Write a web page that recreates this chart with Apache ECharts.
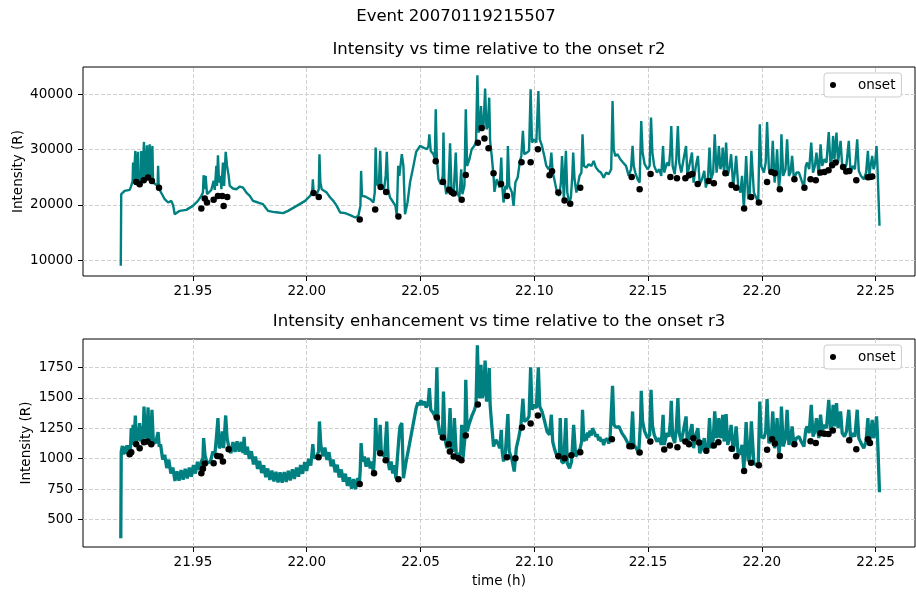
<!DOCTYPE html>
<html><head><meta charset="utf-8">
<script src="https://cdn.jsdelivr.net/npm/echarts@6.0.0/dist/echarts.min.js"></script>
<style>html,body{margin:0;padding:0;background:#fff}#main{width:916px;height:594px}</style>
</head><body><div id="main"></div>
<script>
// ---- data (time in hours, intensity in R) ----
const xTicks = [21.95, 22.00, 22.05, 22.10, 22.15, 22.20, 22.25];
const yTicksR2 = [10000, 20000, 30000, 40000];
const yTicksR3 = [500, 750, 1000, 1250, 1500, 1750];

const r2Trace = [[21.9183,8955],[21.9185,21910],[21.9200,22520],[21.9222,22700],[21.9229,23420],[21.9235,24300],[21.9237,27640],[21.9240,24300],[21.9245,24620],[21.9247,29750],[21.9250,24320],[21.9257,24620],[21.9259,29600],[21.9262,24320],[21.9271,24020],[21.9273,29750],[21.9276,24320],[21.9283,24620],[21.9285,31375],[21.9288,24320],[21.9296,24620],[21.9298,30770],[21.9301,24620],[21.9308,24920],[21.9310,30950],[21.9313,24620],[21.9320,24320],[21.9322,30650],[21.9325,24020],[21.9335,23720],[21.9345,23420],[21.9347,27040],[21.9350,23000],
[21.9354,22820],[21.9376,21010],[21.9391,20410],[21.9405,20710],[21.9413,19930],[21.9420,18300],[21.9442,18900],[21.9471,19080],[21.9500,19800],[21.9522,20710],[21.9537,21610],[21.9544,22210],[21.9547,25350],[21.9552,22820],[21.9556,25230],[21.9562,21910],[21.9581,22700],[21.9591,24320],[21.9596,22700],[21.9603,27040],[21.9606,23420],[21.9610,28960],[21.9615,24020],[21.9621,25230],[21.9625,22820],[21.9632,27640],[21.9637,23420],[21.9644,29570],[21.9650,27040],[21.9657,25230],[21.9662,23420],[21.9676,22940],[21.9691,22820],[21.9706,23300],[21.9720,23120],[21.9735,22210],[21.9750,21610],[21.9764,20710],[21.9786,20410],[21.9808,20100],[21.9830,18900],[21.9852,18720],[21.9874,18600],[21.9896,18480],[21.9918,18900],
[21.9956,19800],[21.9993,20710],[22.0015,21610],[22.0024,22210],[22.0027,24620],[22.0031,21910],[22.0044,21910],[22.0053,22820],[22.0056,29150],[22.0060,24020],[22.0066,22820],[22.0088,22210],[22.0103,21310],[22.0117,20710],[22.0132,19800],[22.0147,18600],[22.0169,18480],[22.0191,18120],[22.0213,17690],[22.0227,18000],[22.0236,19800],[22.0239,26130],[22.0243,21610],[22.0257,21490],[22.0279,21010],[22.0293,20410],[22.0299,22210],[22.0303,30350],[22.0308,23720],[22.0317,23420],[22.0323,29750],[22.0328,23420],[22.0340,22820],[22.0347,25230],[22.0352,29570],[22.0358,22820],[22.0366,21310],[22.0381,20410],[22.0390,19800],[22.0396,18000],[22.0402,27040],[22.0407,25230],[22.0418,29150],[22.0425,27040],[22.0432,18300],[22.0443,20410],[22.0454,24020],[22.0469,27040],[22.0481,29570],[22.0498,30650],[22.0513,30350],[22.0528,30050],[22.0535,30650],[22.0539,32760],[22.0545,29750],[22.0557,29150],[22.0563,28240],[22.0567,37280],[22.0572,28240],[22.0579,24620],[22.0589,23720],[22.0598,25230],[22.0601,33060],[22.0605,24620],[22.0613,21910],[22.0623,23420],[22.0630,31130],[22.0636,22820],[22.0645,21610],[22.0655,29450],[22.0661,22210],[22.0671,21310],[22.0679,26430],[22.0684,21910],[22.0693,23420],[22.0699,37280],[22.0705,27040],[22.0715,28240],[22.0725,30050],[22.0736,30650],[22.0744,31260],[22.0750,43430],[22.0756,33060],[22.0762,34270],[22.0766,37890],[22.0771,33370],[22.0777,34270],[22.0784,41020],[22.0790,33670],[22.0796,34270],[22.0802,39390],[22.0806,31560],[22.0813,28840],[22.0821,25230],[22.0825,22330],[22.0835,24620],
[22.0848,23120],[22.0855,28540],[22.0859,23420],[22.0865,20410],[22.0873,23420],[22.0880,22820],[22.0884,30650],[22.0890,23420],[22.0902,22210],[22.0909,19800],[22.0917,24020],[22.0927,24920],[22.0936,27640],[22.0943,28840],[22.0950,33370],[22.0956,29150],[22.0968,29450],[22.0977,29750],[22.0984,40900],[22.0990,31260],[22.1000,31860],[22.1009,31260],[22.1018,40600],[22.1024,31860],[22.1034,30650],[22.1044,28840],[22.1053,27040],[22.1063,26430],[22.1070,27040],[22.1075,29450],[22.1081,25830],[22.1088,24620],[22.1100,22210],[22.1110,21610],[22.1117,24020],[22.1122,28840],[22.1126,25230],[22.1130,20710],[22.1136,27040],[22.1139,29750],[22.1145,22210],[22.1154,20410],[22.1161,21310],[22.1167,25230],[22.1171,29450],[22.1177,24620],[22.1185,22210],[22.1199,25230],[22.1207,25830],[22.1212,32760],[22.1218,27040],[22.1229,26740],[22.1239,27340],[22.1251,27040],[22.1261,27940],[22.1271,26740],[22.1283,26130],[22.1293,25830],[22.1305,24920],[22.1316,25830],[22.1327,25530],[22.1338,26430],[22.1344,38790],[22.1349,30050],[22.1356,28840],[22.1366,29150],[22.1378,28240],[22.1390,27640],[22.1403,27040],[22.1415,25230],[22.1425,26430],[22.1432,30650],[22.1437,27040],[22.1444,25830],[22.1454,24620],[22.1463,24020],[22.1467,30650],[22.1470,35170],[22.1476,29450],[22.1485,27340],[22.1498,26430],[22.1507,27040],[22.1513,35780],[22.1519,29450],[22.1527,27040],[22.1539,25830],[22.1549,26430],[22.1558,25230],[22.1566,30650],[22.1571,25830],[22.1583,27640],[22.1592,27040],[22.1598,30050],[22.1602,34270],[22.1608,27040],[22.1617,25530],[22.1624,28240],[22.1631,34270],[22.1637,27640],[22.1646,25830],[22.1656,28240],[22.1667,30650],[22.1673,25230],[22.1681,27040],[22.1693,29450],[22.1700,24020],[22.1710,27040],[22.1719,28840],[22.1727,23720],[22.1737,24620],[22.1747,26130],[22.1754,23120],
[22.1763,24620],[22.1770,30350],[22.1777,24620],[22.1786,25830],[22.1793,32760],[22.1801,25830],[22.1807,27640],[22.1811,30650],[22.1818,26430],[22.1824,27340],[22.1828,30350],[22.1834,25830],[22.1839,28240],[22.1843,31260],[22.1850,25230],[22.1859,27040],[22.1865,29150],[22.1874,23420],[22.1881,25830],[22.1887,28840],[22.1896,23420],[22.1906,22210],[22.1913,25230],[22.1921,19200],[22.1931,28840],[22.1940,21010],[22.1947,22210],[22.1954,29750],[22.1965,22210],[22.1975,21310],[22.1984,20410],[22.1991,34570],[22.1997,27040],[22.2009,25830],[22.2017,27640],[22.2023,34990],[22.2031,26430],[22.2041,25830],[22.2048,31560],[22.2056,24020],[22.2063,27040],[22.2067,30050],[22.2075,22820],[22.2082,25830],[22.2086,32760],[22.2094,25230],[22.2104,26430],[22.2111,31860],[22.2119,25230],[22.2126,25830],[22.2133,28840],[22.2141,24620],[22.2152,25830],[22.2163,25830],[22.2173,24620],[22.2185,23120],[22.2193,27040],[22.2199,27640],[22.2208,26430],[22.2217,31260],[22.2225,25830],[22.2233,27040],[22.2240,29450],[22.2250,25230],[22.2258,30950],[22.2265,27040],[22.2275,28240],[22.2284,27640],[22.2294,33180],[22.2302,27040],[22.2309,28840],[22.2313,32460],[22.2319,28240],[22.2328,33060],[22.2335,27640],[22.2346,31560],[22.2353,27040],[22.2363,26430],[22.2372,27340],[22.2382,31560],[22.2390,25830],[22.2400,27040],[22.2409,26430],[22.2419,31860],[22.2426,26130],[22.2436,25230],[22.2448,24620],[22.2458,25830],[22.2466,29750],[22.2472,25230],[22.2478,27040],[22.2485,28840],[22.2491,26430],[22.2498,27640],[22.2504,30650],[22.2508,27040],[22.2514,26740],[22.2517,16190]];

const r2Onsets = [[21.9251,24140],[21.9266,23720],[21.9284,24440],[21.9303,24930],[21.9320,24320],[21.9351,23060],[21.9537,19320],[21.9552,21130],[21.9562,20410],[21.9591,20890],[21.9610,21610],[21.9629,21610],[21.9635,19800],[21.9651,21430],
[22.0030,22150],[22.0053,21430],[22.0233,17330],[22.0301,19140],[22.0325,23240],[22.0349,22330],[22.0403,17880],[22.0567,27880],[22.0599,24140],[22.0626,22700],[22.0636,22330],[22.0646,22030],[22.0681,20890],[22.0699,25410],[22.0752,31250],[22.0769,33910],[22.0781,31980],[22.0799,30230],[22.0821,25710],
[22.0854,23780],[22.0880,21610],[22.0944,27700],[22.0984,27700],[22.1016,30050],[22.1067,25350],[22.1078,26070],[22.1106,22210],[22.1133,20770],[22.1158,20170],[22.1202,23060],[22.1428,25050],[22.1463,22820],[22.1511,25590],[22.1598,25050],[22.1627,24810],[22.1664,24810],[22.1680,25350],[22.1694,25590],[22.1718,23780],
[22.1766,24320],[22.1789,23900],[22.1840,25710],[22.1867,23600],[22.1887,23060],[22.1922,19320],[22.1953,21430],[22.1987,20410],[22.2023,24140],[22.2042,25950],[22.2057,25710],[22.2079,22820],[22.2143,24620],[22.2187,23060],[22.2214,24620],[22.2237,24440],[22.2258,25830],[22.2275,25950],[22.2293,26250],[22.2309,27150],[22.2324,27640],[22.2357,26850],[22.2371,26010],[22.2384,26130],[22.2415,24440],[22.2466,24990],[22.2475,25050],[22.2485,25110]];

const r3Trace = [[21.9183,346],[21.9185,1059],[21.9190,1105],[21.9195,1035],[21.9200,1100],[21.9205,1040],[21.9210,1110],[21.9215,1045],[21.9220,1110],[21.9225,1050],[21.9229,1251],[21.9234,1114],[21.9237,1278],[21.9241,1128],[21.9247,1355],[21.9251,1141],[21.9259,1169],[21.9266,1292],[21.9270,1141],[21.9276,1265],[21.9281,1155],[21.9285,1429],[21.9291,1169],[21.9298,1196],[21.9303,1421],[21.9307,1169],[21.9314,1141],[21.9320,1402],[21.9326,1141],[21.9336,1128],[21.9347,1218],[21.9352,1100],
[21.9358,1117],[21.9367,993],[21.9376,1032],[21.9385,923],[21.9394,992],[21.9403,878],[21.9412,927],[21.9421,818],[21.9430,897],[21.9439,820],[21.9448,907],[21.9457,828],[21.9466,917],[21.9475,838],[21.9484,927],[21.9493,853],[21.9502,947],[21.9511,878],[21.9520,974],[21.9529,908],
[21.9537,977],[21.9544,1004],[21.9547,1169],[21.9553,1032],[21.9562,963],[21.9577,977],[21.9588,1059],[21.9596,1032],[21.9603,1169],[21.9610,1333],[21.9616,1086],[21.9625,1114],[21.9629,1224],[21.9635,1086],[21.9644,1355],[21.9650,1169],[21.9659,1086],
[21.9667,1046],[21.9676,1136],[21.9685,1056],[21.9694,1142],[21.9703,1058],[21.9712,1138],[21.9720,1048],[21.9725,1180],[21.9730,1033],[21.9739,1097],[21.9748,998],[21.9757,1062],[21.9766,953],[21.9775,1017],[21.9784,916],[21.9793,982],[21.9802,883],[21.9811,947],[21.9820,848],[21.9829,920],[21.9838,826],[21.9847,902],[21.9856,813],[21.9865,892],[21.9874,806],[21.9883,888],[21.9892,803],[21.9901,890],[21.9910,810],[21.9919,900],[21.9928,822],[21.9937,912],[21.9946,834],[21.9955,927],[21.9964,853],[21.9973,947],[21.9982,876],[21.9991,972],[22.0000,900],[22.0009,1000],[22.0018,943],
[22.0027,1119],[22.0032,1004],[22.0044,1018],[22.0052,1059],[22.0056,1306],[22.0062,1114],
[22.0071,1020],[22.0080,1092],[22.0089,990],[22.0098,1054],[22.0107,938],[22.0116,994],[22.0125,888],[22.0134,950],[22.0143,846],[22.0152,912],[22.0161,812],[22.0170,877],[22.0179,776],[22.0188,847],[22.0197,753],[22.0206,832],[22.0215,750],[22.0224,842],[22.0231,790],
[22.0235,895],[22.0239,1128],[22.0245,977],[22.0253,1017],[22.0261,935],[22.0270,1007],[22.0279,920],[22.0286,977],[22.0293,880],[22.0299,1059],[22.0303,1333],[22.0309,1086],[22.0318,1059],[22.0323,1278],[22.0328,1045],[22.0342,1018],[22.0352,1306],[22.0358,977],[22.0364,908],[22.0371,977],[22.0378,878],[22.0385,947],[22.0392,838],[22.0396,840],[22.0405,1169],[22.0410,1265],[22.0418,1292],[22.0425,840],[22.0437,977],[22.0451,1114],[22.0466,1265],[22.0481,1415],[22.0488,1460],[22.0495,1440],[22.0502,1480],[22.0510,1440],[22.0518,1470],[22.0525,1420],[22.0534,1456],[22.0539,1580],[22.0545,1402],[22.0557,1374],[22.0566,1333],[22.0572,1750],[22.0577,1306],[22.0586,1196],[22.0597,1224],[22.0601,1552],[22.0607,1169],[22.0616,1086],[22.0624,1169],[22.0630,1415],[22.0636,1086],[22.0645,1059],[22.0649,1333],[22.0657,1045],[22.0667,1018],[22.0677,1059],[22.0681,1278],[22.0687,1004],[22.0695,1169],[22.0699,1648],[22.0705,1224],[22.0715,1292],[22.0725,1347],[22.0737,1402],[22.0744,1443],[22.0750,1931],[22.0756,1498],[22.0762,1525],[22.0766,1772],[22.0771,1498],[22.0777,1539],[22.0784,1805],[22.0790,1470],[22.0796,1511],[22.0802,1744],[22.0806,1443],[22.0813,1278],[22.0821,1100],[22.0831,1155],[22.0843,1114],
[22.0848,1086],[22.0855,1237],[22.0859,1059],[22.0865,977],[22.0873,1045],[22.0880,1032],[22.0884,1366],[22.0890,1059],[22.0902,991],[22.0912,895],[22.0921,1086],[22.0931,1169],[22.0941,1265],[22.0950,1492],[22.0956,1306],[22.0968,1319],[22.0977,1347],[22.0984,1750],[22.0990,1402],[22.1000,1443],[22.1009,1415],[22.1018,1750],[22.1024,1429],[22.1034,1388],[22.1044,1319],[22.1056,1224],[22.1067,1196],[22.1075,1361],[22.1081,1141],[22.1090,1073],[22.1100,1018],[22.1110,1004],[22.1114,1333],[22.1120,977],[22.1129,963],[22.1139,1333],[22.1145,963],[22.1155,922],[22.1164,977],[22.1173,1278],[22.1182,1018],[22.1192,1045],[22.1202,1086],[22.1208,1141],[22.1212,1402],[22.1218,1141],[22.1224,1200],[22.1229,1150],[22.1234,1215],[22.1239,1175],[22.1245,1230],[22.1251,1190],[22.1256,1250],[22.1261,1240],[22.1266,1210],[22.1271,1180],[22.1277,1200],[22.1283,1150],[22.1288,1180],[22.1293,1140],[22.1299,1160],[22.1305,1112],[22.1310,1150],[22.1316,1140],[22.1321,1165],[22.1327,1125],[22.1333,1170],[22.1338,1182],[22.1344,1599],[22.1350,1278],[22.1360,1256],[22.1372,1265],[22.1385,1210],[22.1400,1169],[22.1415,1114],[22.1425,1141],[22.1432,1388],[22.1438,1114],[22.1448,1086],[22.1459,1045],[22.1467,1306],[22.1470,1558],[22.1476,1306],[22.1485,1224],[22.1498,1169],[22.1507,1196],[22.1513,1566],[22.1519,1278],[22.1527,1196],[22.1539,1141],[22.1549,1169],[22.1558,1114],[22.1566,1361],[22.1571,1114],[22.1583,1210],[22.1592,1182],[22.1598,1306],[22.1602,1476],[22.1608,1182],[22.1617,1128],[22.1624,1251],[22.1631,1498],[22.1637,1210],[22.1646,1141],[22.1656,1237],[22.1667,1347],[22.1673,1114],[22.1681,1182],[22.1693,1284],[22.1700,1086],[22.1710,1196],[22.1719,1251],[22.1727,1045],[22.1737,1086],[22.1747,1169],[22.1754,1045],
[22.1763,1086],[22.1770,1333],[22.1777,1086],[22.1786,1155],[22.1793,1388],[22.1801,1169],[22.1807,1210],[22.1811,1333],[22.1818,1169],[22.1824,1210],[22.1828,1361],[22.1834,1141],[22.1839,1251],[22.1843,1366],[22.1850,1114],[22.1859,1182],[22.1865,1278],[22.1874,1059],[22.1881,1141],[22.1887,1265],[22.1896,1032],[22.1906,1045],[22.1913,1114],[22.1921,908],[22.1931,1300],[22.1940,977],[22.1947,1018],[22.1954,1306],[22.1965,963],[22.1975,949],[22.1984,936],[22.1991,1470],[22.1997,1182],[22.2009,1169],[22.2017,1224],[22.2023,1489],[22.2031,1128],[22.2041,1155],[22.2048,1388],[22.2056,1086],[22.2063,1182],[22.2067,1333],[22.2075,1032],[22.2082,1169],[22.2086,1429],[22.2094,1100],[22.2104,1169],[22.2111,1402],[22.2119,1114],[22.2126,1155],[22.2133,1265],[22.2141,1114],[22.2152,1169],[22.2163,1182],[22.2173,1141],[22.2185,1100],[22.2193,1237],[22.2199,1265],[22.2208,1210],[22.2217,1443],[22.2225,1182],[22.2233,1224],[22.2240,1333],[22.2250,1169],[22.2258,1361],[22.2265,1224],[22.2275,1278],[22.2284,1251],[22.2294,1484],[22.2302,1237],[22.2309,1292],[22.2313,1443],[22.2319,1265],[22.2328,1456],[22.2335,1251],[22.2346,1388],[22.2353,1210],[22.2363,1182],[22.2372,1224],[22.2382,1402],[22.2390,1169],[22.2400,1210],[22.2409,1182],[22.2419,1402],[22.2426,1169],[22.2436,1128],[22.2448,1086],[22.2458,1141],[22.2466,1333],[22.2472,1128],[22.2478,1196],[22.2485,1319],[22.2491,1169],[22.2498,1224],[22.2504,1347],[22.2508,1196],[22.2514,1210],[22.2517,725]];

const r3Onsets = [[21.9222,1037],[21.9229,1054],[21.9251,1119],[21.9266,1086],[21.9285,1136],[21.9300,1141],[21.9317,1119],[21.9537,881],[21.9544,917],[21.9552,960],[21.9591,963],[21.9607,1023],[21.9621,1018],[21.9632,977],[21.9657,1078],
[22.0052,1012],[22.0233,793],[22.0296,881],[22.0323,1045],[22.0347,988],[22.0403,832],[22.0572,1339],[22.0598,1174],[22.0624,1119],[22.0629,1059],[22.0646,1018],[22.0667,1004],[22.0680,988],[22.0699,1191],[22.0752,1446],
[22.0880,1012],[22.0917,1004],[22.0946,1256],[22.0984,1289],[22.1016,1355],[22.1106,1021],[22.1133,1004],[22.1163,1029],[22.1202,1054],[22.1341,1160],[22.1418,1103],[22.1428,1103],[22.1463,1051],[22.1510,1141],[22.1571,1076],[22.1596,1108],[22.1629,1095],[22.1664,1141],[22.1680,1119],[22.1699,1169],[22.1724,1133],[22.1756,1065],
[22.1789,1108],[22.1809,1136],[22.1867,1081],[22.1887,1021],[22.1922,900],[22.1953,966],[22.1987,947],[22.2023,1073],[22.2045,1160],[22.2057,1125],[22.2079,1023],[22.2143,1119],[22.2214,1144],[22.2237,1128],[22.2258,1210],[22.2275,1204],[22.2293,1202],[22.2312,1232],[22.2384,1152],[22.2415,1078],[22.2466,1160],[22.2475,1128]];

// ---- chart ----
const FONT = 'DejaVu Sans';
const X_MIN = 21.9017, X_MAX = 22.2673;
const TEAL = '#008080';
const chart = echarts.init(document.getElementById('main'), null, {renderer: 'canvas'});

// label positions: the visible ticks plus blank guards at the axis ends
const xLabelValues = [X_MIN].concat(xTicks, [X_MAX]);
function xLabelFmt(v) {
  return xTicks.some(t => Math.abs(t - v) < 1e-6) ? v.toFixed(2) : '';
}

function gridLines(ys) {
  return {
    silent: true, z: 1, symbol: ['none', 'none'], animation: false,
    label: {show: false}, emphasis: {disabled: true},
    lineStyle: {color: '#d0d0d0', type: [4, 2], width: 1},
    data: xTicks.map(v => ({xAxis: v})).concat(ys.map(v => ({yAxis: v})))
  };
}
function xAxisCfg(i) {
  return {
    gridIndex: i, type: 'value', min: X_MIN, max: X_MAX,
    splitLine: {show: false}, axisLine: {show: false},
    axisTick: {show: true, length: 5, customValues: xTicks, lineStyle: {color: '#000', width: 1}},
    axisLabel: {customValues: xLabelValues, formatter: xLabelFmt, color: '#000', fontSize: 13.5, fontFamily: FONT, margin: 8,
                alignMinLabel: 'center', alignMaxLabel: 'center', hideOverlap: false},
    name: i === 1 ? 'time (h)' : '', nameLocation: 'middle', nameGap: 27, nameMoveOverlap: false,
    nameTextStyle: {color: '#000', fontSize: 13.5, fontFamily: FONT}
  };
}
function yAxisCfg(i, min, max, ticks, gap) {
  return {
    gridIndex: i, type: 'value', min: min, max: max,
    splitLine: {show: false}, axisLine: {show: false},
    axisTick: {show: true, length: 5, customValues: ticks, lineStyle: {color: '#000', width: 1}},
    axisLabel: {customValues: ticks, formatter: v => String(v), color: '#000', fontSize: 13.5, fontFamily: FONT, margin: 10,
                verticalAlignMinLabel: 'middle', verticalAlignMaxLabel: 'middle'},
    name: 'Intensity (R)', nameLocation: 'middle', nameGap: gap, nameRotate: 90, nameMoveOverlap: false,
    nameTextStyle: {color: '#000', fontSize: 13.5, fontFamily: FONT}
  };
}
function legendCfg(top) {
  return {
    left: 824, top: top, orient: 'vertical',
    data: [{name: 'onset', icon: 'circle'}],
    itemWidth: 24, itemHeight: 6, symbolKeepAspect: true,
    padding: [5, 6, 5, 6],
    backgroundColor: '#fff', borderColor: '#cccccc', borderWidth: 1, borderRadius: 3,
    textStyle: {color: '#000', fontSize: 13.5, fontFamily: FONT, padding: [0, 0, 0, 8]},
    selectedMode: false
  };
}
const titleFont = '16.5px "DejaVu Sans"';
const gridBase = {left: 83, width: 832, show: true, borderColor: '#000', borderWidth: 1, backgroundColor: 'rgba(0,0,0,0)', containLabel: false, outerBoundsMode: 'none'};
const option = {
  animation: false,
  backgroundColor: '#ffffff',
  textStyle: {fontFamily: FONT},
  graphic: [
    {type: 'text', x: 456, y: 17, style: {text: 'Event 20070119215507', font: titleFont, fill: '#000', align: 'center', verticalAlign: 'middle'}},
    {type: 'text', x: 499, y: 50, style: {text: 'Intensity vs time relative to the onset r2', font: titleFont, fill: '#000', align: 'center', verticalAlign: 'middle'}},
    {type: 'text', x: 499, y: 322, style: {text: 'Intensity enhancement vs time relative to the onset r3', font: titleFont, fill: '#000', align: 'center', verticalAlign: 'middle'}}
  ],
  grid: [
    Object.assign({}, gridBase, {top: 67, height: 209}),
    Object.assign({}, gridBase, {top: 339, height: 208})
  ],
  xAxis: [xAxisCfg(0), xAxisCfg(1)],
  yAxis: [yAxisCfg(0, 7107, 44940, yTicksR2, 58), yAxisCfg(1, 275, 1983, yTicksR3, 50)],
  legend: [legendCfg(73), legendCfg(345)],
  series: [
    {type: 'line', name: 'r2', xAxisIndex: 0, yAxisIndex: 0, data: r2Trace, showSymbol: false, symbol: 'none', z: 2,
     lineStyle: {color: TEAL, width: 2.4}, itemStyle: {color: TEAL}, markLine: gridLines(yTicksR2)},
    {type: 'scatter', name: 'onset', xAxisIndex: 0, yAxisIndex: 0, data: r2Onsets, symbol: 'circle', symbolSize: 6.5, z: 3,
     itemStyle: {color: '#000', opacity: 1}},
    {type: 'line', name: 'r3', xAxisIndex: 1, yAxisIndex: 1, data: r3Trace, showSymbol: false, symbol: 'none', z: 2,
     lineStyle: {color: TEAL, width: 3.3}, itemStyle: {color: TEAL}, markLine: gridLines(yTicksR3)},
    {type: 'scatter', name: 'onset', xAxisIndex: 1, yAxisIndex: 1, data: r3Onsets, symbol: 'circle', symbolSize: 6.5, z: 3,
     itemStyle: {color: '#000', opacity: 1}}
  ]
};
chart.setOption(option);
</script>
</body></html>
